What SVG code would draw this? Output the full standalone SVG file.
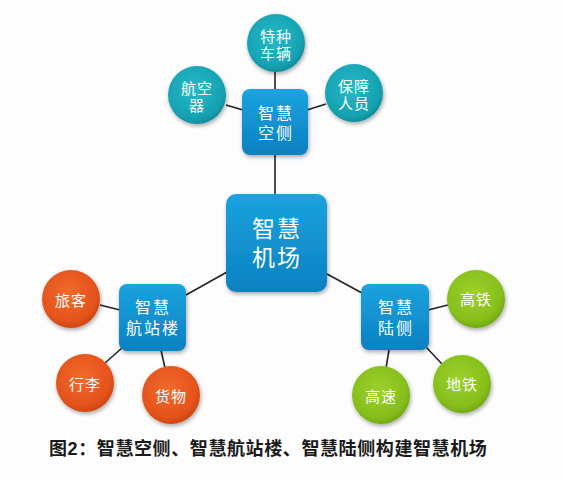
<svg xmlns="http://www.w3.org/2000/svg" width="564" height="482" viewBox="0 0 564 482">
<defs>
<linearGradient id="gBox" x1="0" y1="0" x2="0" y2="1">
<stop offset="0" stop-color="#1ba3de"/><stop offset="1" stop-color="#0b80c2"/>
</linearGradient>
<radialGradient id="gTeal" cx="0.45" cy="0.4" r="0.6">
<stop offset="0" stop-color="#27b9c6"/><stop offset="0.8" stop-color="#16a3b3"/><stop offset="1" stop-color="#0f8f9f"/>
</radialGradient>
<radialGradient id="gOrange" cx="0.45" cy="0.4" r="0.6">
<stop offset="0" stop-color="#f26a2c"/><stop offset="0.8" stop-color="#e4531c"/><stop offset="1" stop-color="#cf4714"/>
</radialGradient>
<radialGradient id="gGreen" cx="0.45" cy="0.4" r="0.6">
<stop offset="0" stop-color="#9dd02c"/><stop offset="0.8" stop-color="#86bf1c"/><stop offset="1" stop-color="#73a912"/>
</radialGradient>
<filter id="sh" x="-20%" y="-20%" width="150%" height="150%">
<feGaussianBlur in="SourceAlpha" stdDeviation="2"/>
<feOffset dx="1" dy="2" result="b"/>
<feComponentTransfer><feFuncA type="linear" slope="0.35"/></feComponentTransfer>
<feMerge><feMergeNode/><feMergeNode in="SourceGraphic"/></feMerge>
</filter>
</defs>
<style>
.box{fill:url(#gBox);filter:url(#sh)}
.teal{fill:url(#gTeal);filter:url(#sh)}
.orange{fill:url(#gOrange);filter:url(#sh)}
.green{fill:url(#gGreen);filter:url(#sh)}
.t{fill:#ffffff;font-family:"Liberation Sans","Noto Sans CJK SC",sans-serif;text-anchor:middle}
.s{font-size:15px;letter-spacing:1px}
.m{font-size:16px;letter-spacing:2px}
.l{font-size:23px;letter-spacing:2px}
.ln{stroke:#222222;stroke-width:1.6;fill:none}
.cap{font-family:"Liberation Sans","Noto Sans CJK SC",sans-serif;font-weight:bold;font-size:18px;letter-spacing:0.6px;fill:#1a1a1a}
</style>
<rect width="564" height="482" fill="#fdfdfd"/>
<g id="connectors">
<line class="ln" x1="275" y1="155" x2="275" y2="195"/>
<line class="ln" x1="186" y1="295" x2="227" y2="272"/>
<line class="ln" x1="327" y1="274" x2="362" y2="293"/>
<line class="ln" x1="275" y1="72" x2="275" y2="90"/>
<line class="ln" x1="226" y1="105" x2="243" y2="110"/>
<line class="ln" x1="307" y1="110" x2="326" y2="104"/>
<line class="ln" x1="100" y1="305" x2="120" y2="310"/>
<line class="ln" x1="105" y1="363" x2="122" y2="348"/>
<line class="ln" x1="161" y1="350" x2="165" y2="368"/>
<line class="ln" x1="428" y1="310" x2="448" y2="305"/>
<line class="ln" x1="426" y1="347" x2="442" y2="364"/>
<line class="ln" x1="389" y1="350" x2="386" y2="368"/>
</g>
<g id="center"><rect class="box" x="226" y="194" width="101" height="98" rx="10"/>
<text class="t l" x="277" y="237">智慧<tspan x="277" dy="29">机场</tspan></text></g>
<g id="airside"><rect class="box" x="242" y="89" width="66" height="66" rx="8"/>
<text class="t m" x="276" y="119">智慧<tspan x="276" dy="20">空侧</tspan></text></g>
<g id="terminal"><rect class="box" x="119" y="284" width="67" height="67" rx="8"/>
<text class="t m" x="153" y="313">智慧<tspan x="153" dy="21">航站楼</tspan></text></g>
<g id="landside"><rect class="box" x="361" y="284" width="68" height="66" rx="8"/>
<text class="t m" x="396" y="313">智慧<tspan x="396" dy="21">陆侧</tspan></text></g>
<g id="vehicles"><circle class="teal" cx="276" cy="43" r="29"/>
<text class="t s" x="276" y="41.5">特种<tspan x="276" dy="17">车辆</tspan></text></g>
<g id="aircraft"><circle class="teal" cx="197" cy="95" r="29"/>
<text class="t s" x="197" y="93.5">航空<tspan x="197" dy="17">器</tspan></text></g>
<g id="staff"><circle class="teal" cx="354" cy="93" r="29"/>
<text class="t s" x="354" y="91.5">保障<tspan x="354" dy="17">人员</tspan></text></g>
<g id="passengers"><circle class="orange" cx="71" cy="299" r="29"/>
<text class="t s" x="71" y="305.5">旅客</text></g>
<g id="baggage"><circle class="orange" cx="85" cy="383" r="29"/>
<text class="t s" x="85" y="389.5">行李</text></g>
<g id="cargo"><circle class="orange" cx="171" cy="395" r="29"/>
<text class="t s" x="171" y="401.5">货物</text></g>
<g id="hsr"><circle class="green" cx="476" cy="299" r="29"/>
<text class="t s" x="476" y="304.5">高铁</text></g>
<g id="metro"><circle class="green" cx="462" cy="384" r="29"/>
<text class="t s" x="462" y="389.5">地铁</text></g>
<g id="highway"><circle class="green" cx="381" cy="395" r="29"/>
<text class="t s" x="381" y="401.5">高速</text></g>
<text class="cap" x="49" y="455">图2：智慧空侧、智慧航站楼、智慧陆侧构建智慧机场</text>
</svg>
